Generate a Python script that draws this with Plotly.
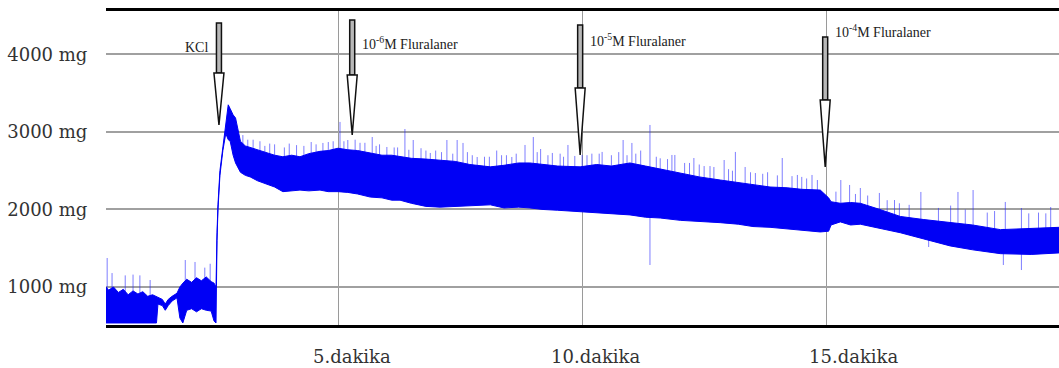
import plotly.graph_objects as go

# ---------------- data ----------------
# time in minutes, force in mg: lower / upper edge of the dense trace
time_min = [0.246, 0.30, 0.40, 0.50, 0.60, 0.70, 0.80, 0.90, 1.00, 1.10, 1.20, 1.28,
            1.31, 1.40, 1.46, 1.52, 1.60, 1.70, 1.76, 1.82, 1.90, 2.00, 2.10, 2.20,
            2.30, 2.40, 2.46, 2.50, 2.52, 2.54, 2.58, 2.64, 2.70, 2.75, 2.79, 2.85,
            2.90, 3.00, 3.10, 3.20, 3.35, 3.55, 3.70, 3.87, 4.05, 4.22, 4.40, 4.63,
            4.80, 5.00, 5.20, 5.40, 5.66, 5.90, 6.10, 6.27, 6.50, 6.80, 7.09, 7.40,
            7.70, 8.12, 8.40, 8.70, 8.93, 9.20, 9.50, 9.96, 10.30, 10.60, 10.98, 11.30,
            11.60, 12.01, 12.40, 12.83, 13.20, 13.50, 13.85, 14.20, 14.50, 14.88, 15.05, 15.10,
            15.29, 15.50, 15.70, 16.10, 16.52, 17.00, 17.54, 18.00, 18.57, 19.20, 19.78]
band_low = [536, 536, 536, 536, 536, 536, 536, 536, 536, 536, 536, 536,
            780, 760, 700, 760, 820, 860, 600, 536, 700, 720, 680, 720,
            700, 690, 560, 536, 1600, 2000, 2440, 2760, 2980, 2900, 2880, 2700,
            2600, 2480, 2440, 2420, 2370, 2320, 2290, 2230, 2240, 2250, 2240, 2250,
            2230, 2230, 2220, 2200, 2160, 2150, 2120, 2120, 2080, 2040, 2030, 2040,
            2050, 2060, 2020, 2030, 2020, 2000, 1990, 1970, 1960, 1940, 1930, 1900,
            1890, 1860, 1850, 1830, 1810, 1780, 1770, 1750, 1740, 1710, 1720, 1800,
            1840, 1800, 1810, 1760, 1700, 1620, 1530, 1480, 1430, 1420, 1440]
band_high = [1000, 960, 1000, 930, 970, 900, 950, 910, 940, 880, 900, 880,
             870, 840, 780, 840, 880, 920, 1000, 1050, 1100, 1060, 1120, 1080,
             1130, 1070, 1050, 1000, 1700, 2060, 2500, 2830, 3120, 3350, 3300, 3220,
             3180, 2880, 2820, 2800, 2760, 2720, 2700, 2680, 2700, 2680, 2720, 2750,
             2760, 2790, 2770, 2760, 2730, 2700, 2700, 2680, 2660, 2650, 2640, 2620,
             2580, 2550, 2570, 2600, 2600, 2580, 2560, 2550, 2580, 2560, 2600, 2560,
             2520, 2470, 2420, 2380, 2350, 2320, 2290, 2280, 2260, 2250, 2150, 2100,
             2080, 2090, 2080, 2000, 1910, 1870, 1830, 1800, 1740, 1760, 1770]

# isolated spikes: time, bottom, top
spike_t = [0.27, 0.37, 0.64, 0.80, 0.94, 1.15, 1.87, 2.07, 2.27, 2.38,
           3.26, 3.40, 3.60, 4.00, 4.69, 5.04, 5.20, 5.70, 6.00, 6.37,
           6.54, 6.89, 7.23, 7.44, 7.56, 7.85, 8.56, 8.83, 9.00, 9.39,
           9.71, 10.00, 10.41, 10.84, 11.02, 11.39, 11.84, 11.90, 12.29, 12.70,
           12.91, 13.14, 13.34, 14.10, 14.41, 14.71, 15.30, 15.48, 15.70, 16.09,
           16.40, 16.94, 17.70, 18.01, 18.67, 19.00, 19.60, 11.39, 18.63, 19.00, 17.10,
           3.05, 3.70, 4.15, 4.45, 4.90, 5.35, 5.55, 5.85, 6.15, 6.70,
           7.00, 7.65, 8.00, 8.25, 8.45, 9.15, 9.55, 9.85, 10.20, 10.60,
           11.20, 11.60, 12.10, 12.50, 13.00, 13.55, 13.80, 14.30, 14.60, 15.85,
           16.25, 16.70, 17.30, 17.55, 18.30, 19.35,
           3.15, 3.50, 3.90, 4.30, 4.55, 4.80, 5.12, 5.45, 5.78, 6.22,
           6.45, 6.80, 7.12, 7.35, 7.75, 8.10, 8.35, 8.65, 9.08, 9.30,
           9.62, 10.10, 10.35, 10.75, 10.92, 11.10, 11.52, 11.75, 12.20, 12.40,
           12.62, 13.08, 13.45, 13.70, 14.00, 14.50, 14.82, 15.20, 15.60, 16.50,
           17.85, 18.45, 19.15, 19.50]
spike_low = [900, 900, 900, 880, 900, 880, 1000, 1000, 1000, 1000,
             2700, 2650, 2650, 2600, 2650, 2700, 2650, 2600, 2600, 2600,
             2550, 2550, 2550, 2550, 2500, 2500, 2500, 2500, 2500, 2450,
             2450, 2450, 2400, 2400, 2400, 2400, 2350, 2350, 2300, 2250,
             2250, 2200, 2200, 2150, 2100, 2100, 2000, 2000, 1950, 1900,
             1850, 1800, 1750, 1700, 1650, 1650, 1650, 1284, 1284, 1219, 1516,
             2700, 2600, 2600, 2600, 2650, 2650, 2650, 2600, 2600, 2550,
             2550, 2500, 2450, 2450, 2450, 2450, 2450, 2450, 2450, 2450,
             2450, 2400, 2350, 2300, 2250, 2200, 2200, 2150, 2150, 1950,
             1900, 1850, 1800, 1750, 1700, 1700,
             2700, 2650, 2600, 2600, 2650, 2650, 2700, 2650, 2600, 2600,
             2550, 2550, 2550, 2500, 2500, 2450, 2450, 2450, 2500, 2450,
             2450, 2450, 2450, 2450, 2450, 2450, 2400, 2400, 2350, 2300,
             2300, 2250, 2200, 2200, 2200, 2150, 2150, 2000, 1950, 1850,
             1750, 1700, 1700, 1700]
spike_high = [1374, 1180, 1150, 1160, 1150, 1090, 1348, 1323, 1250, 1300,
              2900, 2880, 2850, 2850, 2858, 3129, 2896, 2935, 2806, 3038,
              2896, 2729, 2896, 2896, 2858, 2677, 2677, 2832, 2935, 2729,
              2832, 2703, 2742, 2896, 2858, 3090, 2703, 2703, 2664, 2548,
              2638, 2742, 2548, 2664, 2445, 2445, 2380, 2316, 2277, 2213,
              2122, 2226, 2226, 2251, 2097, 2019, 2032, 1900, 1750, 1700, 1700,
              2960, 2840, 2830, 2870, 2880, 2900, 2860, 2840, 2800, 2790,
              2760, 2740, 2680, 2760, 2700, 2780, 2720, 2690, 2720, 2700,
              2760, 2660, 2600, 2560, 2520, 2470, 2480, 2430, 2400, 2180,
              2120, 2060, 2020, 2050, 1960, 1960,
              2900, 2820, 2800, 2820, 2840, 2870, 2880, 2860, 2820, 2800,
              2770, 2760, 2740, 2720, 2700, 2680, 2700, 2720, 2740, 2700,
              2680, 2700, 2720, 2740, 2700, 2720, 2680, 2650, 2600, 2580,
              2560, 2500, 2480, 2460, 2440, 2420, 2380, 2230, 2200, 2080,
              2000, 1980, 1950, 1950]

# y grid / tick labels
y_ticks = [1000, 2000, 3000, 4000]
y_labels = ["1000 mg", "2000 mg", "3000 mg", "4000 mg"]
x_ticks = [5, 10, 15]
x_labels = ["5.dakika", "10.dakika", "15.dakika"]
x_label_pos = [5.29, 10.27, 15.57]   # where the minute labels are centred

# additions (arrows): time, arrow top, head start, tip (mg), label, label y
event_t = [2.56, 5.29, 9.96, 14.98]
event_top = [4406, 4444, 4380, 4225]
event_head = [3761, 3735, 3567, 3412]
event_tip = [3090, 2961, 2703, 2548]
event_label = ["KCl", "10<sup>-6</sup>M Fluralaner", "10<sup>-5</sup>M Fluralaner",
               "10<sup>-4</sup>M Fluralaner"]
event_label_y = [4083, 4148, 4186, 4302]

# ---------------- figure ----------------
BLUE = "#0000f5"
fig = go.Figure()

sx, sy = [], []
for t, lo, hi in zip(spike_t, spike_low, spike_high):
    sx += [t, t, None]
    sy += [lo, hi, None]
fig.add_trace(go.Scatter(x=sx, y=sy, mode="lines",
                         line=dict(color="rgba(40,40,255,0.6)", width=1),
                         hoverinfo="skip", showlegend=False))

fig.add_trace(go.Scatter(x=time_min, y=band_low, mode="lines",
                         line=dict(color=BLUE, width=1), showlegend=False))
fig.add_trace(go.Scatter(x=time_min, y=band_high, mode="lines", fill="tonexty",
                         fillcolor=BLUE, line=dict(color=BLUE, width=1),
                         showlegend=False))

shapes = []
for t, top, head, tip in zip(event_t, event_top, event_head, event_tip):
    shapes.append(dict(type="rect", xref="x", yref="y", xsizemode="pixel", xanchor=t,
                       x0=-2.5, x1=2.5, y0=head, y1=top,
                       line=dict(color="#111", width=1.5), fillcolor="#b8b8b8"))
    shapes.append(dict(type="path", xref="x", yref="y", xsizemode="pixel", xanchor=t,
                       path=f"M -5,{head} L 5,{head} L 0,{tip} Z",
                       line=dict(color="#111", width=1.5), fillcolor="white"))

annotations = []
for i, (t, lab, ly) in enumerate(zip(event_t, event_label, event_label_y)):
    left = i > 0
    annotations.append(dict(x=t, y=ly, xref="x", yref="y", text=lab, showarrow=False,
                            xanchor="left" if left else "right", yanchor="middle",
                            xshift=8 if left else -9,
                            font=dict(family="Liberation Serif, Times New Roman, serif",
                                      size=14, color="#222")))
for pos, lab in zip(x_label_pos, x_labels):
    annotations.append(dict(x=pos, y=0, xref="x", yref="paper", text=lab, showarrow=False,
                            xanchor="center", yanchor="top", yshift=-19,
                            font=dict(family="DejaVu Serif, serif", size=18, color="#333")))

fig.update_layout(
    width=1059, height=368,
    margin=dict(l=106, r=0, t=11, b=43),
    paper_bgcolor="white", plot_bgcolor="white",
    shapes=shapes, annotations=annotations,
    font=dict(family="DejaVu Serif, serif", size=18, color="#333"),
)
fig.update_xaxes(range=[0.246, 19.77], tickvals=x_ticks, showticklabels=False,
                 showgrid=True, gridcolor="#9a9a9a", gridwidth=1,
                 showline=True, linecolor="black", linewidth=3, mirror=True,
                 ticks="", zeroline=False)
fig.update_yaxes(range=[510, 4560], tickvals=y_ticks, ticktext=y_labels,
                 showgrid=True, gridcolor="#a0a0a0", gridwidth=2,
                 showline=False, ticks="outside", ticklen=14,
                 tickcolor="rgba(0,0,0,0)", zeroline=False, tickfont=dict(size=18))

fig.write_html("out.html", config={"displayModeBar": False},
               post_script="document.body.style.margin='0';document.body.style.padding='0';")
